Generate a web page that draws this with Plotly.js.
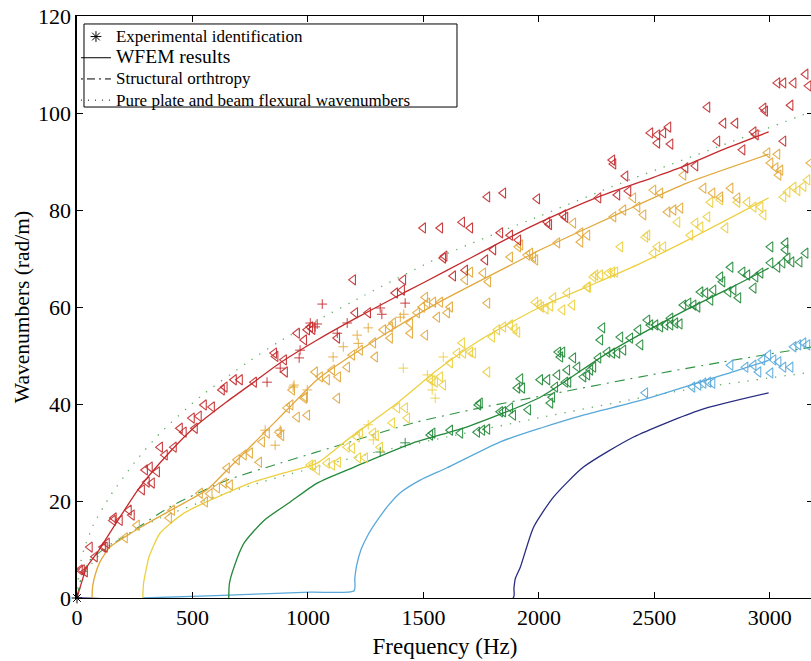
<!DOCTYPE html>
<html>
<head>
<meta charset="utf-8">
<script src="https://cdn.plot.ly/plotly-3.0.1.min.js"></script>
<style>
html,body{margin:0;padding:0;overflow:hidden;background:#fff;}
#chart{width:813px;height:661px;}
</style>
</head>
<body>
<div id="chart"></div>
<script>
// ---- WFEM results (frequency Hz, wavenumber rad/m) ----
const wfemRed = [[0,0],[43,6.4],[87,9.3],[150,14],[273,22.9],[400,30],[511,35.3],[650,40.5],[780,45],[880,48.5],[1040,53.2],[1200,57.5],[1370,61.8],[1500,65],[1700,70],[1920,75.5],[2006,77.5],[2258,82.7],[2500,86.8],[2626,89],[2800,92.5],[2995,96.1]];
const wfemOrange = [[65,0],[68,2.5],[80,5],[100,7.5],[143,10.5],[208,12.6],[290,15],[433,18.8],[563,22.3],[650,26.4],[780,32.6],[910,38.8],[1040,45],[1313,53.8],[1560,60.8],[1920,69.7],[2006,71.8],[2353,79.4],[2643,85.6],[2995,91.5]];
const wfemYellow = [[285,0],[288,3],[300,6],[312,8.5],[360,13.4],[463,17.5],[607,20.8],[750,23.7],[897,25.8],[1040,27.8],[1170,32.6],[1387,40.2],[1560,47],[1746,53.2],[2006,60],[2250,65],[2440,69],[2670,74.4],[2995,82.5]];
const wfemGreen = [[657,0],[660,3],[680,6.4],[723,11.3],[810,16],[923,19.8],[1040,23.7],[1200,27],[1456,32],[1690,35.3],[2006,41.4],[2297,50.5],[2613,58.8],[2873,65],[2995,68]];
const wfemBlue = [[285,0],[600,0.5],[1010,1.2],[1200,1.5],[1203,4],[1210,6.5],[1230,10],[1260,13],[1300,16],[1350,19.2],[1400,21.7],[1486,24.3],[1600,26.8],[1833,32.2],[2006,35],[2200,37.8],[2453,40.9],[2843,46.7],[2995,49]];
const wfemNavy = [[0,0],[1889,0],[1892,2],[1898,4],[1920,6.4],[1977,14.6],[2063,20.8],[2193,27],[2410,33.2],[2700,38.8],[2995,42.3]];

// ---- Structural orthotropy ----
const orthotropy = [[0,0],[20,4.5],[56,7.8],[120,10.2],[203,12.6],[403,18.8],[650,24.3],[880,27.8],[1170,32],[1456,36.1],[1746,39.2],[2006,41.6],[2440,45.6],[2800,48.7],[3187,51.8]];

// ---- Pure plate and beam flexural wavenumbers ----
const plateFlex = [[0,0],[10,6],[30,10],[70,15],[143,21],[250,28],[360,34],[533,41.5],[736,48.5],[880,53],[1240,62.3],[1603,71],[2006,78.8],[2353,85.5],[2786,93.2],[3187,100.4]];
const beamFlex = [[0,0],[30,4.5],[70,7.5],[143,11],[250,14],[360,16.5],[607,21],[880,25],[1313,30.3],[1603,33.2],[2006,37.2],[2583,42.5],[3187,46.6]];

// ---- Experimental identification ----
const expOrigin = [[0,0]];
const redTri = [[13,5.8],[22,5.8],[35,5.4],[56,10.5],[78,8.5],[113,10.5],[121,10.5],[130,11.3],[156,16],[160,16.5],[186,16],[225,18.1],[238,17.1],[282,22.3],[295,26.4],[303,23.9],[316,27],[325,23.7],[347,26],[360,31.1],[381,29.5],[420,31.1],[446,35],[463,34.2],[498,37.1],[511,35],[528,37.5],[550,39.8],[585,39.4],[628,42.9],[640,43.5],[680,45],[706,45],[767,44.5],[854,50.5],[860,49.8],[897,49.1],[901,46.6],[953,54.6],[984,53.2],[997,55.3],[1010,55.9],[1020,55.4],[1127,53.6],[1196,65.6],[1205,58.8],[1261,58.8],[1378,62.9],[1408,63.5],[1413,65.6],[1499,76.3],[1573,76.3],[1586,70.1],[1592,70.5],[1629,66.4],[1668,77.5],[1681,67.6],[1703,76.3],[1768,69.7],[1777,82.7],[1803,71.8],[1833,75.3],[1846,83.5],[1876,74.8],[1911,73.8],[1993,82.3],[2037,77.5],[2045,77],[2106,79],[2115,78.5],[2258,82.5],[2318,90.3],[2323,89.5],[2340,83.1],[2375,87],[2388,83.9],[2483,95.9],[2513,95.5],[2513,93.8],[2539,95.9],[2561,97.1],[2570,93.6],[2635,88.7],[2678,89.1],[2730,101.2],[2773,94.2],[2799,97.9],[2851,97.9],[2882,92.4],[2930,96.1],[2940,95.5],[2973,101],[2980,100.4],[3033,106.2],[3059,106.2],[3059,94.2],[3090,101.6],[3103,106.2],[3155,108],[3168,105.6]];
const redPlus = [[823,44.5],[880,47.4],[962,49.5],[966,51.1],[1010,56.7],[1031,55.9],[1040,56.5],[1062,60.6],[1127,54.6],[1170,56.7],[1313,59.8],[1320,58.5],[1421,60.8]];
const orangeTri = [[208,12.4],[260,15],[399,16.5],[412,18.1],[533,21.6],[555,19.8],[575,21.5],[607,22.7],[637,23.7],[663,23.3],[650,26.8],[693,28.5],[723,29.5],[750,29.9],[789,28],[802,32.2],[823,34],[875,34.2],[885,33.5],[910,39.2],[925,39.8],[953,37.3],[997,37.7],[984,41.2],[932,42.9],[1031,46.6],[988,41.4],[1053,45.6],[1083,45],[1105,47],[1131,45.6],[1127,41.2],[1170,47.6],[1192,50.1],[1226,51.1],[1291,49.7],[1283,52.6],[1326,55.3],[1356,55.9],[1369,56.7],[1356,53.6],[1443,56.7],[1443,54.6],[1473,58.8],[1495,60],[1517,60.8],[1543,61],[1573,61],[1508,62],[1560,57.9],[1603,58.8],[1616,60],[1508,54.2],[1777,60.8],[1681,65.6],[1703,67.2],[1759,67],[1781,65.2],[1876,70.3],[1950,70.7],[1976,70.3],[1911,72.4],[1920,72.8],[1963,71.1],[1985,69.7],[2080,73.2],[2149,77.3],[2180,75.3],[2210,74.8],[2180,73.4],[2323,78.6],[2366,80],[2427,80.6],[2453,79],[2409,82.5],[2496,84.1],[2526,83.5],[2557,79.6],[2583,80],[2613,80.4],[2626,87.2],[2713,84.5],[2752,83.5],[2786,82.7],[2830,84.5],[2860,82.5],[2990,91.8],[3033,91.5],[3003,89.7],[3025,88.7],[3046,88.2],[3038,87.2],[3176,89.7]];
const orangePlus = [[815,34.6],[858,31.5],[880,34.6],[936,43.5],[940,43.9],[997,42.9],[1109,49.7],[1153,51.8],[1213,54.2],[1218,52.5],[1261,55.7],[1400,57.9],[1415,58.5]];
const yellowTri = [[1010,27.4],[1023,27.4],[1040,26.4],[1083,27.8],[1105,27.4],[1131,28],[1170,31.1],[1192,30.9],[1213,33.2],[1226,34],[1283,34],[1295,33.5],[1313,31.1],[1218,28.9],[1248,28.9],[1365,36.1],[1387,39.2],[1421,39.2],[1430,37.1],[1530,45],[1551,44.5],[1573,45.6],[1586,43.9],[1540,44.8],[1616,48.5],[1647,50.5],[1673,50.5],[1703,50.7],[1716,50.5],[1668,52.6],[1777,46.6],[1798,53.8],[1820,55.3],[1846,55.9],[1876,56.3],[1907,54.8],[1895,55.5],[1985,61],[2000,60.5],[2010,60],[2030,59.6],[2050,60.2],[2102,59.4],[2145,60.4],[2063,61.9],[2123,62.9],[2210,64.1],[2214,64.1],[2245,66.6],[2236,66.2],[2266,66.6],[2301,67],[2318,67.2],[2331,67.2],[2353,72.4],[2461,74.4],[2470,74.8],[2496,71.1],[2513,72.4],[2539,72.4],[2600,77.5],[2656,74.8],[2678,77.3],[2700,76.5],[2730,78.6],[2743,81.6],[2786,82.1],[2808,76.3],[2860,81.6],[2903,81.6],[2930,80.6],[2960,80.6],[2973,79],[3059,82.7],[3077,83.7],[3103,84.7],[3120,84],[3146,84.9],[3163,86.2]];
const yellowPlus = [[1261,35.7],[1283,32.6],[1413,47.4],[1517,46],[1538,42.9],[1551,41.2],[1586,49.7]];
const greenTri = [[1530,33.6],[1540,34],[1616,34.6],[1660,34],[1733,34.2],[1755,34.6],[1777,34.8],[1738,39.8],[1745,40.2],[1833,38.4],[1846,38.4],[1876,39.2],[1889,37.7],[1954,38.8],[1920,45.2],[1928,43.3],[1907,43.3],[2050,40.2],[2037,45],[2080,46],[2102,50.7],[2149,49.5],[2167,47.6],[2123,47],[2128,44.5],[2006,45],[2058,41.4],[2071,43.5],[2093,49.7],[2084,50.7],[2115,44.5],[2193,45.6],[2210,46],[2223,47],[2236,47.6],[2258,49.5],[2275,55.7],[2266,53.2],[2297,50.7],[2318,50.5],[2340,50.5],[2353,53.8],[2366,51.1],[2396,53.6],[2431,55.3],[2440,52.2],[2470,57.3],[2483,56.3],[2505,56.3],[2526,55.9],[2548,56.3],[2570,56.3],[2591,56.7],[2570,57.7],[2610,56.5],[2626,60.4],[2648,60.8],[2670,60.4],[2687,60],[2700,63.1],[2721,62.9],[2756,63.5],[2743,61.4],[2786,66.2],[2795,65.2],[2821,63.1],[2843,63.5],[2864,61.9],[2830,68.2],[2882,67.2],[2903,66.6],[2930,63.9],[2938,66.2],[2960,67],[3003,69.1],[3033,68.2],[3055,69.1],[3077,70.1],[3094,69.3],[3129,69.3],[3155,71.1],[3003,72.4],[3068,73.2],[3068,71.8]];
const greenPlus = [[1313,30.1],[1421,32]];
const blueTri = [[2461,42.3],[2665,43.5],[2691,43.9],[2713,44.3],[2734,44.5],[2752,44.3],[2830,48],[2895,47.6],[2930,48],[2951,46.6],[2968,49.1],[2994,50.1],[3003,46.4],[3016,49.1],[3038,48.7],[3059,47.6],[3090,47.6],[3103,51.8],[3124,52.2],[3146,52.6],[3163,52.2]];

// ---- colours ----
const cRed = '#c42a2c', cOrange = '#e2a83c', cYellow = '#ecd040', cGreen = '#24883a', cBlue = '#58a8da', cNavy = '#262c7e';
const cOrtho = '#2f9444', cFlex = '#5fae62';

const FONT = 'Liberation Serif, Times New Roman, serif';
const xs = a => a.map(p => p[0]);
const ys = a => a.map(p => p[1]);

function wfem(a, color){
  return {x: xs(a), y: ys(a), mode: 'lines', line: {color: color, width: 1.3, shape: 'spline', smoothing: 0.6}, showlegend: false, hoverinfo: 'skip'};
}
function tri(a, color){
  return {x: xs(a), y: ys(a), mode: 'markers', showlegend: false,
    marker: {symbol: 'triangle-left-open', size: 9, color: color, opacity: 0.9, line: {width: 1.1, color: color}}};
}
function plus(a, color){
  return {x: xs(a), y: ys(a), mode: 'markers', showlegend: false,
    marker: {symbol: 'cross-thin-open', size: 7, color: color, opacity: 0.9, line: {width: 1, color: color}}};
}

const traces = [
  {x: xs(plateFlex), y: ys(plateFlex), mode: 'lines', line: {color: cFlex, width: 1.3, dash: '1.3px,8px', shape: 'spline', smoothing: 0.6}, showlegend: false},
  {x: xs(beamFlex), y: ys(beamFlex), mode: 'lines', line: {color: cFlex, width: 1.3, dash: '1.3px,8px', shape: 'spline', smoothing: 0.6}, showlegend: false},
  {x: xs(orthotropy), y: ys(orthotropy), mode: 'lines', line: {color: cOrtho, width: 1.1, dash: '10px,6px,2px,6px', shape: 'spline', smoothing: 0.6}, showlegend: false},
  wfem(wfemNavy, cNavy), wfem(wfemBlue, cBlue), wfem(wfemGreen, cGreen), wfem(wfemYellow, cYellow), wfem(wfemOrange, cOrange), wfem(wfemRed, cRed),
  tri(blueTri, cBlue), tri(greenTri, cGreen), plus(greenPlus, cGreen),
  tri(yellowTri, cYellow), plus(yellowPlus, cYellow),
  tri(orangeTri, cOrange), plus(orangePlus, cOrange),
  tri(redTri, cRed), plus(redPlus, cRed),
  // legend entries
  {x: xs(expOrigin), y: ys(expOrigin), mode: 'markers', name: '<span style="font-size:17px">Experimental identification</span>',
    marker: {symbol: 'asterisk-open', size: 9, color: '#000', line: {width: 1, color: '#000'}}, cliponaxis: false},
  {x: [null], y: [null], mode: 'lines', name: '<span style="font-size:19.5px">WFEM results</span>', line: {color: '#000', width: 1}},
  {x: [null], y: [null], mode: 'lines', name: '<span style="font-size:17px">Structural orthtropy</span>', line: {color: '#000', width: 1, dash: '2px,4px,8px,4px'}},
  {x: [null], y: [null], mode: 'lines', name: '<span style="font-size:17px">Pure plate and beam flexural wavenumbers</span>', line: {color: '#000', width: 1, dash: '1px,6px'}}
];

const layout = {
  width: 813, height: 661,
  margin: {l: 77, r: 0, t: 16, b: 63, pad: 0},
  paper_bgcolor: '#fff', plot_bgcolor: '#fff',
  font: {family: FONT, color: '#000', size: 22},
  showlegend: true,
  legend: {x: -0.0014, y: 0.9915, xanchor: 'left', yanchor: 'top', bgcolor: 'rgba(0,0,0,0)', borderwidth: 0,
    font: {family: FONT, size: 14, color: '#000'}, tracegroupgap: 0, itemwidth: 30},
  shapes: [
    {type: 'rect', xref: 'paper', yref: 'paper', x0: 0.0095, x1: 0.5163, y0: 0.8436, y1: 0.9863,
     line: {color: '#000', width: 1}, fillcolor: '#fff', layer: 'below'}
  ],
  xaxis: {range: [0, 3187], tickvals: [0, 500, 1000, 1500, 2000, 2500, 3000], ticks: 'inside', ticklen: 6, tickcolor: '#000',
    showline: true, linecolor: '#000', linewidth: 1, mirror: 'ticks', showgrid: false, zeroline: false,
    tickfont: {family: FONT, size: 22}, title: {text: 'Frequency (Hz)', font: {family: FONT, size: 23}, standoff: 8}},
  yaxis: {range: [0, 120], tickvals: [0, 20, 40, 60, 80, 100, 120], ticks: 'inside', ticklen: 6, tickcolor: '#000',
    showline: true, linecolor: '#000', linewidth: 1.6, mirror: 'ticks', showgrid: false, zeroline: false,
    tickfont: {family: FONT, size: 22}, title: {text: 'Wavenumbers (rad/m)', font: {family: FONT, size: 21.5}, standoff: 2}}
};

Plotly.newPlot('chart', traces, layout, {staticPlot: true, displayModeBar: false});
</script>
</body>
</html>
